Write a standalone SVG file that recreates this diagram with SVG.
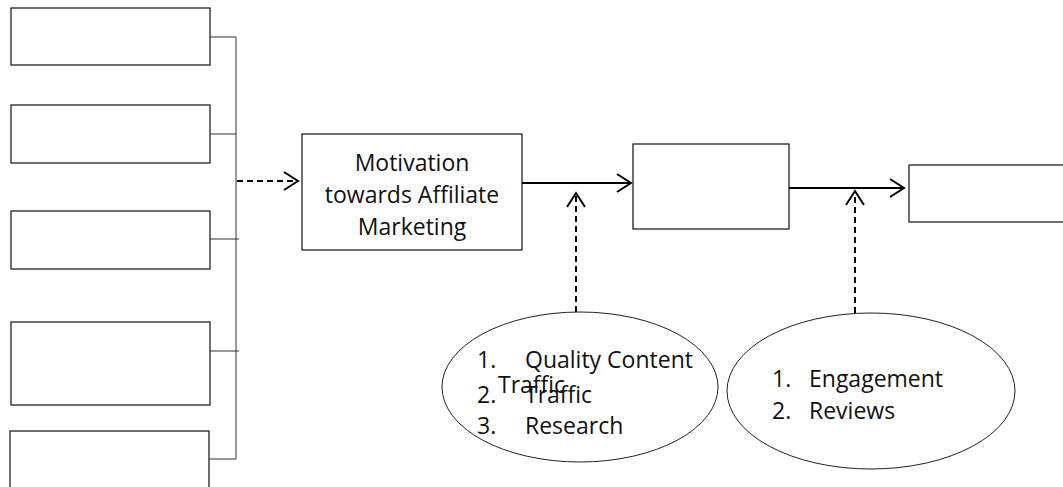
<svg xmlns="http://www.w3.org/2000/svg" width="1063" height="487" viewBox="0 0 1063 487">
<style>
.box{fill:#fff;stroke:#222;stroke-width:1.3}
.thin{fill:none;stroke:#333;stroke-width:1}
.solid{fill:none;stroke:#000;stroke-width:2}
.dash{fill:none;stroke:#000;stroke-width:2;stroke-dasharray:6,4}
.head{fill:none;stroke:#000;stroke-width:2}
.ell{fill:#fff;stroke:#222;stroke-width:1}
text{font-family:"Open Sans","Liberation Sans",sans-serif;font-size:23px;fill:#111}
</style>
<rect width="1063" height="487" fill="#fff"/>
<g id="src1"><rect class="box" x="11" y="8" width="199" height="57"/></g>
<g id="src2"><rect class="box" x="11" y="105" width="199" height="58"/></g>
<g id="src3"><rect class="box" x="11" y="211" width="199" height="58"/></g>
<g id="src4"><rect class="box" x="11" y="322" width="199" height="83"/></g>
<g id="src5"><rect class="box" x="10" y="431" width="199" height="70"/></g>
<g id="motivation"><rect class="box" x="302" y="134" width="220" height="116"/>
<text x="412" y="171" text-anchor="middle">Motivation</text>
<text x="412" y="203" text-anchor="middle">towards Affiliate</text>
<text x="412" y="235" text-anchor="middle">Marketing</text></g>
<g id="middle"><rect class="box" x="633" y="144" width="156" height="85"/></g>
<g id="result"><rect class="box" x="909" y="165" width="170" height="57"/></g>
<g id="factors1"><ellipse class="ell" cx="580" cy="387" rx="138" ry="75"/>
<text x="477" y="368">1.</text><text x="525" y="368">Quality Content</text>
<text x="477" y="403">2.</text><text x="525" y="403">Traffic</text>
<text x="498" y="393">Traffic</text>
<text x="477" y="434">3.</text><text x="525" y="434">Research</text></g>
<g id="factors2"><ellipse class="ell" cx="871" cy="391" rx="144" ry="78"/>
<text x="772" y="387">1.</text><text x="809" y="387">Engagement</text>
<text x="772" y="419">2.</text><text x="809" y="419">Reviews</text></g>
<g id="connectors">
<path class="thin" d="M210 37H236V459H209M210 134H236M210 239H239M210 351H239"/>
<path class="dash" d="M237 181H296"/>
<path class="head" d="M284 172L298 181L284 190"/>
<path class="solid" d="M522 183H630"/>
<path class="head" d="M617 174L631 183L617 192"/>
<path class="dash" d="M576 312V196"/>
<path class="head" d="M567 207L576 193L585 207"/>
<path class="solid" d="M789 188H903"/>
<path class="head" d="M890 179L904 188L890 197"/>
<path class="dash" d="M855 313V195"/>
<path class="head" d="M846 205L855 191L864 205"/>
</g>
</svg>
